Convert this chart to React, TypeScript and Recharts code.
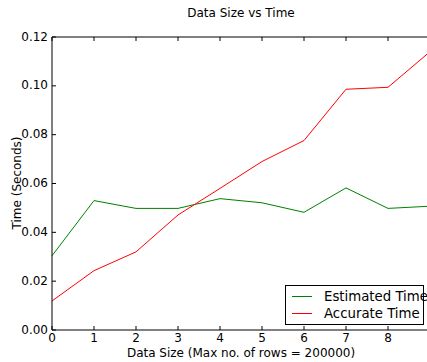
import { LineChart, Line, XAxis, YAxis } from "recharts";

const xValues = [0, 1, 2, 3, 4, 5, 6, 7, 8, 9];
const estimatedTime = [0.0304, 0.053, 0.0498, 0.0498, 0.0538, 0.0521, 0.0482, 0.0582, 0.0498, 0.0507];
const accurateTime = [0.0119, 0.0243, 0.032, 0.0471, 0.058, 0.069, 0.0776, 0.0986, 0.0994, 0.114];
const xTicks = [0, 1, 2, 3, 4, 5, 6, 7, 8];
const yTicks = [0, 0.02, 0.04, 0.06, 0.08, 0.1, 0.12];
const seriesNames = ["Estimated Time", "Accurate Time"];
const seriesColors = ["#008000", "#ff0000"];

const data = xValues.map((x, i) => ({
  x,
  estimated: estimatedTime[i],
  accurate: accurateTime[i],
}));

const FONT = "'DejaVu Sans', sans-serif";

const BottomTick = ({ x, y, payload }: any) => (
  <g>
    <line x1={x} y1={y} x2={x} y2={y - 4} stroke="#000" />
    <text x={x} y={y + 12} textAnchor="middle" fontSize={12} fontFamily={FONT} fill="#000">
      {payload.value}
    </text>
  </g>
);

const TopTick = ({ x, y }: any) => (
  <line x1={x} y1={y} x2={x} y2={y + 4} stroke="#000" />
);

const LeftTick = ({ x, y, payload }: any) => (
  <g>
    <line x1={x} y1={y} x2={x + 4} y2={y} stroke="#000" />
    <text x={x - 4} y={y + 3.5} textAnchor="end" fontSize={12} fontFamily={FONT} fill="#000">
      {payload.value.toFixed(2)}
    </text>
  </g>
);

export default function App() {
  return (
    <div style={{ position: "fixed", left: 0, top: 0, width: 427, height: 362, overflow: "hidden", background: "#fff" }}>
      <div
        style={{ position: "absolute", left: 52, width: 378, top: 6, textAlign: "center", fontFamily: FONT, fontSize: 12 }}
      >
        Data Size vs Time
      </div>
      <div
        style={{ position: "absolute", left: 52, width: 378, top: 346, textAlign: "center", fontFamily: FONT, fontSize: 12, whiteSpace: "nowrap" }}
      >
        Data Size (Max no. of rows = 200000)
      </div>
      <div
        style={{
          position: "absolute",
          left: 17,
          top: 183,
          transform: "translate(-50%, -50%) rotate(-90deg)",
          whiteSpace: "nowrap",
          fontFamily: FONT,
          fontSize: 12,
        }}
      >
        Time (Seconds)
      </div>
      <LineChart width={440} height={362} data={data} margin={{ top: 36, right: 10, bottom: 0, left: 0 }}>
        <XAxis
          dataKey="x"
          type="number"
          domain={[0, 9]}
          ticks={xTicks}
          height={32}
          tickSize={0}
          tickMargin={0}
          stroke="#000"
          tick={<BottomTick />}
          interval={0}
        />
        <XAxis
          xAxisId="top"
          orientation="top"
          dataKey="x"
          type="number"
          domain={[0, 9]}
          ticks={xTicks}
          height={1}
          tickSize={0}
          tickMargin={0}
          stroke="#000"
          tick={<TopTick />}
          interval={0}
        />
        <YAxis
          type="number"
          domain={[0, 0.12]}
          ticks={yTicks}
          width={52}
          tickSize={0}
          tickMargin={0}
          stroke="#000"
          tick={<LeftTick />}
          interval={0}
        />
        <Line
          dataKey="estimated"
          name={seriesNames[0]}
          stroke={seriesColors[0]}
          strokeWidth={1}
          dot={false}
          isAnimationActive={false}
        />
        <Line
          dataKey="accurate"
          name={seriesNames[1]}
          stroke={seriesColors[1]}
          strokeWidth={1}
          dot={false}
          isAnimationActive={false}
        />
      </LineChart>
      <div
        style={{
          position: "absolute",
          left: 285,
          top: 285,
          width: 139,
          height: 40,
          boxSizing: "border-box",
          border: "1px solid #000",
          background: "#fff",
          padding: "2px 0 2px 6px",
          fontFamily: FONT,
          fontSize: 13.3,
          lineHeight: "17px",
          color: "#000",
          whiteSpace: "nowrap",
        }}
      >
        {seriesNames.map((name, i) => (
          <div key={name} style={{ display: "flex", alignItems: "center" }}>
            <span style={{ display: "inline-block", flex: "none", width: 20, height: 1, background: seriesColors[i], marginRight: 12 }} />
            <span>{name}</span>
          </div>
        ))}
      </div>
    </div>
  );
}
